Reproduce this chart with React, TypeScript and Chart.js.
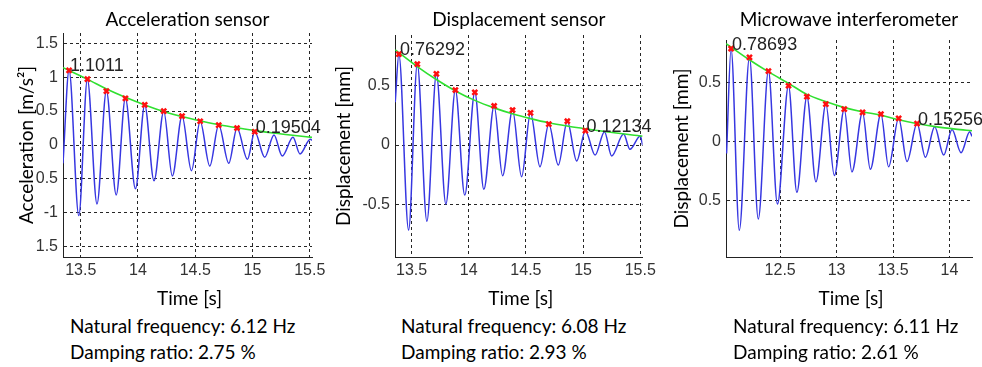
import React, { useEffect, useRef } from "react";
import { Chart, registerables } from "chart.js";

Chart.register(...registerables);

// ---------- Acceleration sensor ----------
const accPeakTimes = [13.398, 13.558, 13.724, 13.89, 14.059, 14.225, 14.385, 14.543, 14.705, 14.865, 15.02, 15.188, 15.354, 15.505];
const accPeakValues = [1.1, 0.97, 0.794, 0.687, 0.59, 0.498, 0.426, 0.35, 0.294, 0.25, 0.195, 0.147, 0.113, 0.085];
const accTroughTimes = [13.483, 13.642, 13.81, 13.978, 14.14, 14.3, 14.467, 14.627, 14.793, 14.956, 15.107, 15.26, 15.415];
const accTroughValues = [-1.04, -0.868, -0.735, -0.645, -0.528, -0.456, -0.38, -0.31, -0.27, -0.21, -0.18, -0.162, -0.132];
const accStart = [13.345, -0.27];
const accEnd = [15.52, 0.07];
const accEnvTimes = [13.345, 13.558, 13.73, 13.9, 14.06, 14.23, 14.39, 14.56, 14.72, 14.88, 15.04, 15.2, 15.37, 15.52];
const accEnvValues = [1.14, 0.97, 0.82, 0.695, 0.59, 0.49, 0.415, 0.35, 0.295, 0.25, 0.208, 0.172, 0.14, 0.113];
const accNoteIdx = [0, 10];
const accNoteText = ["1.1011", "0.19504"];
const accXTicks = [13.5, 14, 14.5, 15, 15.5];
const accXLabels = ["13.5", "14", "14.5", "15", "15.5"];
const accYTicks = [-1.5, -1, -0.5, 0, 0.5, 1, 1.5];
const accYLabels = ["1.5", "-1", "0.5", "0", "0.5", "1", "1.5"];

// ---------- Displacement sensor ----------
const dispPeakTimes = [13.389, 13.55, 13.717, 13.883, 14.053, 14.222, 14.383, 14.54, 14.7, 14.862, 15.02, 15.187, 15.354, 15.5];
const dispPeakValues = [0.763, 0.68, 0.597, 0.462, 0.443, 0.328, 0.294, 0.27, 0.176, 0.2, 0.121, 0.112, 0.092, 0.076];
const dispTroughTimes = [13.474, 13.634, 13.8, 13.965, 14.132, 14.296, 14.462, 14.623, 14.783, 14.944, 15.105, 15.25, 15.41];
const dispTroughValues = [-0.714, -0.64, -0.496, -0.42, -0.372, -0.258, -0.266, -0.182, -0.168, -0.134, -0.084, -0.092, -0.036];
const dispStart = [13.357, 0.36];
const dispEnd = [15.52, 0.0];
const dispEnvTimes = [13.357, 13.556, 13.717, 13.892, 14.053, 14.228, 14.389, 14.54, 14.7, 14.86, 15.02, 15.2, 15.52];
const dispEnvValues = [0.8, 0.655, 0.55, 0.45, 0.375, 0.31, 0.26, 0.222, 0.187, 0.16, 0.137, 0.112, 0.075];
const dispNoteIdx = [0, 10];
const dispNoteText = ["0.76292", "0.12134"];
const dispXTicks = [13.5, 14, 14.5, 15, 15.5];
const dispXLabels = ["13.5", "14", "14.5", "15", "15.5"];
const dispYTicks = [-0.5, 0, 0.5];
const dispYLabels = ["-0.5", "0", "0.5"];

// ---------- Microwave interferometer ----------
const mwPeakTimes = [12.065, 12.228, 12.396, 12.574, 12.737, 12.905, 13.068, 13.23, 13.393, 13.55, 13.713, 13.869, 14.023, 14.18];
const mwPeakValues = [0.787, 0.713, 0.597, 0.473, 0.38, 0.318, 0.275, 0.247, 0.233, 0.197, 0.153, 0.125, 0.103, 0.083];
const mwTroughTimes = [12.138, 12.306, 12.476, 12.648, 12.817, 12.98, 13.136, 13.299, 13.461, 13.624, 13.787, 13.949, 14.103];
const mwTroughValues = [-0.75, -0.655, -0.528, -0.428, -0.34, -0.287, -0.256, -0.234, -0.213, -0.168, -0.132, -0.114, -0.094];
const mwStart = [12.025, -0.1];
const mwEnd = [14.2, 0.045];
const mwEnvTimes = [12.021, 12.22, 12.397, 12.574, 12.737, 12.909, 13.062, 13.225, 13.387, 13.541, 13.707, 13.89, 14.053, 14.2];
const mwEnvValues = [0.83, 0.697, 0.59, 0.493, 0.4, 0.337, 0.29, 0.253, 0.225, 0.188, 0.154, 0.125, 0.106, 0.092];
const mwNoteIdx = [0, 10];
const mwNoteText = ["0.78693", "0.15256"];
const mwXTicks = [12.5, 13, 13.5, 14];
const mwXLabels = ["12.5", "13", "13.5", "14"];
const mwYTicks = [-0.5, 0, 0.5];
const mwYLabels = ["0.5", "0", "0.5"];

const MARKED_PEAKS = 11;

const SANS = 'Lato, "Open Sans", sans-serif';
const ARIAL = '"Liberation Sans", Arial, sans-serif';
const CANVAS_H = 312;

type PanelCfg = {
  title: string;
  yTitle: string;
  left: number;
  width: number;
  area: { left: number; right: number; top: number; bottom: number };
  yTitleX: number;
  xRange: [number, number];
  yRange: [number, number];
  xTicks: number[];
  xLabels: string[];
  yTicks: number[];
  yLabels: string[];
  peakT: number[];
  peakV: number[];
  troughT: number[];
  troughV: number[];
  start: number[];
  end: number[];
  envT: number[];
  envV: number[];
  noteIdx: number[];
  noteText: string[];
  caption1: string;
  caption2: string;
  captionX: number;
};

const panels: PanelCfg[] = [
  {
    title: "Acceleration sensor",
    yTitle: "Acceleration [m/s²]",
    left: 0,
    width: 330,
    area: { left: 63, right: 312, top: 33, bottom: 257 },
    yTitleX: 33,
    xRange: [13.345, 15.52],
    yRange: [-1.65, 1.65],
    xTicks: accXTicks,
    xLabels: accXLabels,
    yTicks: accYTicks,
    yLabels: accYLabels,
    peakT: accPeakTimes,
    peakV: accPeakValues,
    troughT: accTroughTimes,
    troughV: accTroughValues,
    start: accStart,
    end: accEnd,
    envT: accEnvTimes,
    envV: accEnvValues,
    noteIdx: accNoteIdx,
    noteText: accNoteText,
    caption1: "Natural frequency: 6.12 Hz",
    caption2: "Damping ratio: 2.75 %",
    captionX: 70,
  },
  {
    title: "Displacement sensor",
    yTitle: "Displacement [mm]",
    left: 330,
    width: 330,
    area: { left: 65, right: 313, top: 35, bottom: 257 },
    yTitleX: 20,
    xRange: [13.355, 15.52],
    yRange: [-0.94, 0.924],
    xTicks: dispXTicks,
    xLabels: dispXLabels,
    yTicks: dispYTicks,
    yLabels: dispYLabels,
    peakT: dispPeakTimes,
    peakV: dispPeakValues,
    troughT: dispTroughTimes,
    troughV: dispTroughValues,
    start: dispStart,
    end: dispEnd,
    envT: dispEnvTimes,
    envV: dispEnvValues,
    noteIdx: dispNoteIdx,
    noteText: dispNoteText,
    caption1: "Natural frequency: 6.08 Hz",
    caption2: "Damping ratio: 2.93 %",
    captionX: 401,
  },
  {
    title: "Microwave interferometer",
    yTitle: "Displacement [mm]",
    left: 655,
    width: 327,
    area: { left: 71, right: 317, top: 40, bottom: 257 },
    yTitleX: 33,
    xRange: [12.02, 14.2],
    yRange: [-0.976, 0.86],
    xTicks: mwXTicks,
    xLabels: mwXLabels,
    yTicks: mwYTicks,
    yLabels: mwYLabels,
    peakT: mwPeakTimes,
    peakV: mwPeakValues,
    troughT: mwTroughTimes,
    troughV: mwTroughValues,
    start: mwStart,
    end: mwEnd,
    envT: mwEnvTimes,
    envV: mwEnvValues,
    noteIdx: mwNoteIdx,
    noteText: mwNoteText,
    caption1: "Natural frequency: 6.11 Hz",
    caption2: "Damping ratio: 2.61 %",
    captionX: 733,
  },
];

function buildSignal(cfg: PanelCfg) {
  const pts: { x: number; y: number }[] = [{ x: cfg.start[0], y: cfg.start[1] }];
  cfg.peakT.forEach((t, i) => pts.push({ x: t, y: cfg.peakV[i] }));
  cfg.troughT.forEach((t, i) => pts.push({ x: t, y: cfg.troughV[i] }));
  pts.push({ x: cfg.end[0], y: cfg.end[1] });
  pts.sort((a, b) => a.x - b.x);
  return pts;
}

function PanelChart({ cfg }: { cfg: PanelCfg }) {
  const ref = useRef<HTMLCanvasElement>(null);
  useEffect(() => {
    const canvas = ref.current;
    if (!canvas) return;
    const textPlugin = {
      id: "panelText",
      afterDraw(chart: any) {
        const { ctx, chartArea: ca, scales } = chart;
        ctx.save();
        ctx.fillStyle = "#000";
        ctx.font = `19px ${SANS}`;
        ctx.textAlign = "center";
        ctx.textBaseline = "alphabetic";
        const cx = (ca.left + ca.right) / 2;
        ctx.fillText(cfg.title, cx, 26);
        ctx.fillText("Time [s]", cx + 2, 305);
        ctx.save();
        ctx.translate(cfg.yTitleX, (ca.top + ca.bottom) / 2);
        ctx.rotate(-Math.PI / 2);
        ctx.fillText(cfg.yTitle, 0, 0);
        ctx.restore();
        ctx.font = `18px ${ARIAL}`;
        ctx.fillStyle = "#222";
        ctx.textAlign = "left";
        ctx.textBaseline = "middle";
        cfg.noteIdx.forEach((idx, k) => {
          const px = scales.x.getPixelForValue(cfg.peakT[idx]);
          const py = scales.y.getPixelForValue(cfg.peakV[idx]);
          ctx.fillText(cfg.noteText[k], px + 1, py - 4);
        });
        ctx.restore();
      },
    };

    const markers = cfg.peakT.slice(0, MARKED_PEAKS).map((t, i) => ({ x: t, y: cfg.peakV[i] }));
    const envelope = cfg.envT.map((t, i) => ({ x: t, y: cfg.envV[i] }));
    const signal = buildSignal(cfg);

    const gridColor = "rgba(0,0,0,0.85)";
    const chart = new Chart(canvas, {
      type: "line",
      data: {
        datasets: [
          {
            data: markers,
            showLine: false,
            pointStyle: "crossRot",
            pointRadius: 3.5,
            pointBorderWidth: 2.5,
            pointBorderColor: "#ff1010",
            pointBackgroundColor: "#ff1010",
          },
          {
            data: envelope,
            borderColor: "#30e030",
            borderWidth: 1.6,
            pointRadius: 0,
            cubicInterpolationMode: "monotone",
            fill: false,
          },
          {
            data: signal,
            borderColor: "rgb(55,55,225)",
            borderWidth: 1.5,
            pointRadius: 0,
            cubicInterpolationMode: "monotone",
            fill: false,
          },
        ],
      } as any,
      options: {
        animation: false,
        responsive: false,
        maintainAspectRatio: false,
        events: [],
        layout: {
          padding: { top: cfg.area.top, right: cfg.width - cfg.area.right, left: 0, bottom: 0 },
        },
        plugins: {
          legend: { display: false },
          tooltip: { enabled: false },
          title: { display: false },
        },
        scales: {
          x: {
            type: "linear",
            min: cfg.xRange[0],
            max: cfg.xRange[1],
            afterBuildTicks: (s: any) => {
              s.ticks = cfg.xTicks.map((v) => ({ value: v }));
            },
            afterFit: (s: any) => {
              s.height = CANVAS_H - cfg.area.bottom;
            },
            ticks: {
              autoSkip: false,
              maxRotation: 0,
              padding: 4,
              color: "#333",
              font: { family: ARIAL, size: 16 },
              callback: (v: any) => {
                const i = cfg.xTicks.indexOf(Number(v));
                return i >= 0 ? cfg.xLabels[i] : "";
              },
            },
            grid: { color: gridColor, lineWidth: 1, drawTicks: false },
            border: { display: true, color: "#222", width: 1, dash: [3, 3] },
          },
          y: {
            type: "linear",
            min: cfg.yRange[0],
            max: cfg.yRange[1],
            afterBuildTicks: (s: any) => {
              s.ticks = cfg.yTicks.map((v) => ({ value: v }));
            },
            afterFit: (s: any) => {
              s.width = cfg.area.left;
            },
            ticks: {
              autoSkip: false,
              padding: 5,
              color: "#333",
              font: { family: ARIAL, size: 16 },
              callback: (v: any) => {
                const i = cfg.yTicks.indexOf(Number(v));
                return i >= 0 ? cfg.yLabels[i] : "";
              },
            },
            grid: { color: gridColor, lineWidth: 1, drawTicks: false },
            border: { display: true, color: "#222", width: 1, dash: [3, 3] },
          },
        },
      } as any,
      plugins: [textPlugin],
    });
    return () => chart.destroy();
  }, [cfg]);

  return (
    <canvas
      ref={ref}
      width={cfg.width}
      height={CANVAS_H}
      style={{ position: "absolute", left: cfg.left, top: 0, width: cfg.width, height: CANVAS_H }}
    />
  );
}

export default function App() {
  return (
    <div
      style={{
        position: "absolute",
        left: 0,
        top: 0,
        width: 982,
        height: 367,
        overflow: "hidden",
        background: "#fff",
      }}
    >
      {panels.map((p) => (
        <PanelChart key={p.title} cfg={p} />
      ))}
      {panels.map((p) => (
        <React.Fragment key={p.title + "-cap"}>
          <div
            style={{
              position: "absolute",
              left: p.captionX,
              top: 315,
              font: `19px ${SANS}`,
              lineHeight: "21px",
              whiteSpace: "nowrap",
              color: "#000",
            }}
          >
            {p.caption1}
          </div>
          <div
            style={{
              position: "absolute",
              left: p.captionX,
              top: 341,
              font: `19px ${SANS}`,
              lineHeight: "21px",
              whiteSpace: "nowrap",
              color: "#000",
            }}
          >
            {p.caption2}
          </div>
        </React.Fragment>
      ))}
    </div>
  );
}
